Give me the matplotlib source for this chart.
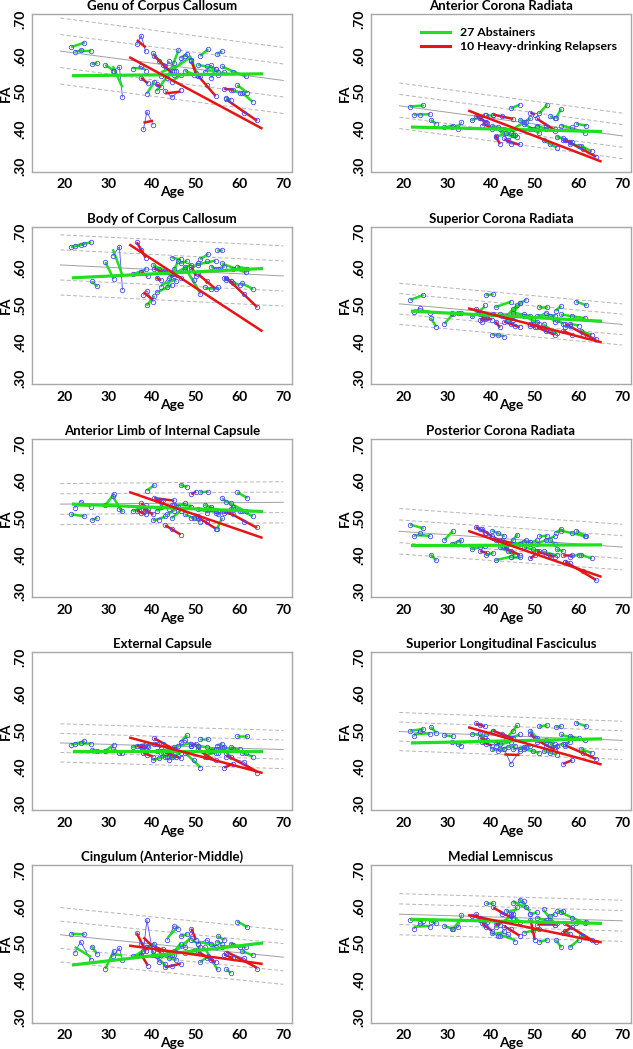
import matplotlib
matplotlib.use("Agg")
import matplotlib.pyplot as plt
import numpy as np
from matplotlib.lines import Line2D

plt.rcParams["font.family"] = ["Lato", "DejaVu Sans"]
plt.rcParams["font.weight"] = "bold"

titles = ["Genu of Corpus Callosum", "Anterior Corona Radiata",
          "Body of Corpus Callosum", "Superior Corona Radiata",
          "Anterior Limb of Internal Capsule", "Posterior Corona Radiata",
          "External Capsule", "Superior Longitudinal Fasciculus",
          "Cingulum (Anterior-Middle)", "Medial Lemniscus"]

# normative band: centre line at age 19 and 70, and spacing between lines
norm_at19 = [.613, .464, .610, .504, .538, .464, .467, .498, .524, .580]
norm_at70 = [.533, .382, .580, .448, .543, .421, .449, .474, .463, .562]
norm_sd = [.045, .031, .041, .028, .028, .031, .026, .026, .037, .028]

# group fits: abstainers at ages 22/65, relapsers at ages 35/65
abst_fit = [(.546, .551), (.406, .394), (.575, .600), (.484, .457), (.538, .518),
            (.425, .427), (.444, .444), (.467, .478), (.442, .501), (.566, .555)]
relapse_fit = [(.595, .403), (.450, .313), (.664, .431), (.491, .400), (.570, .447),
               (.464, .341), (.481, .386), (.509, .409), (.494, .445), (.577, .504)]

# ages at each scan: 27 abstainers, then 10 relapsers
ages = [[21.5, 24.5], [22.3, 23.6, 26.0], [26.2, 27.4], [29.3, 31.2], [31.0, 32.5, 33.2],
        [38.8, 40.5], [40.2, 41.5, 43.0], [41.0, 44.5], [42.0, 43.8, 45.5], [43.5, 45.0, 46.0],
        [44.5, 46.5], [45.0, 47.5, 49.0], [46.5, 48.0], [47.5, 49.5, 51.0], [49.0, 50.5],
        [50.5, 52.5, 54.5], [51.0, 52.8], [52.0, 53.5, 55.0], [53.5, 54.5], [54.8, 56.0],
        [55.0, 56.5], [56.0, 58.5, 61.5], [57.0, 58.0], [58.0, 60.0], [59.5, 61.8],
        [60.5, 63.0], [35.5, 37.5, 38.5],
        [36.5, 37.5, 38.5], [37.5, 39.0], [38.0, 38.8, 40.2], [40.5, 42.5, 45.0],
        [43.0, 44.5, 46.5], [41.0, 42.0], [49.0, 50.0], [50.5, 52.5, 54.5],
        [56.5, 58.5], [57.0, 61.0, 64.0]]
n_abst = 27

genu_fa = [[.624, .636], [.610, .617, .612], [.578, .580], [.575, .560], [.560, .570, .488],
           [.497, .530], [.608, .585, .572], [.505, .560], [.545, .585, .560], [.540, .580, .617],
           [.530, .548], [.560, .600, .590], [.595, .605], [.560, .548, .545], [.590, .545],
           [.575, .572, .565], [.600, .618], [.555, .575, .555], [.540, .565], [.605, .612],
           [.548, .555], [.572, .555, .545], [.485, .480], [.508, .500], [.520, .500],
           [.500, .475], [.565, .572, .560],
           [.632, .655, .612], [.540, .525], [.400, .448, .413], [.600, .575, .548],
           [.505, .487, .508], [.522, .515], [.585, .552], [.545, .520, .490],
           [.510, .508], [.482, .445, .425]]
acr_fa = [[.462, .465], [.440, .440, .441], [.425, .415], [.405, .410], [.405, .402, .420],
          [.440, .440], [.410, .405, .400], [.380, .390], [.400, .370, .385], [.390, .385, .380],
          [.457, .467], [.400, .420, .430], [.425, .420], [.415, .400, .390], [.400, .405],
          [.410, .400, .395], [.443, .467], [.370, .360, .350], [.435, .430], [.430, .455],
          [.380, .375], [.410, .405, .390], [.370, .365], [.360, .355], [.415, .410],
          [.355, .340], [.425, .430, .440],
          [.437, .430, .420], [.430, .418], [.410, .420, .400], [.440, .435, .428],
          [.375, .360, .360], [.382, .360], [.445, .440], [.430, .410, .400],
          [.370, .365], [.370, .345, .325]]
body_fa = [[.658, .668], [.662, .665, .672], [.565, .552], [.617, .572], [.635, .660, .543],
           [.500, .525], [.610, .600, .595], [.535, .555], [.550, .575, .565], [.550, .600, .620],
           [.630, .625], [.585, .605, .610], [.615, .620], [.600, .570, .530], [.600, .615],
           [.610, .620, .620], [.625, .640], [.550, .545, .550], [.605, .600], [.650, .650],
           [.600, .605], [.615, .600, .590], [.570, .565], [.565, .555], [.605, .600],
           [.560, .545], [.585, .590, .600],
           [.672, .650, .630], [.590, .580], [.528, .540, .510], [.600, .590, .580],
           [.590, .585, .575], [.575, .568], [.605, .580], [.585, .565, .545],
           [.575, .560], [.575, .530, .495]]
scr_fa = [[.515, .528], [.482, .492, .480], [.465, .442], [.450, .475], [.480, .478, .478],
          [.528, .530], [.420, .420, .415], [.495, .510], [.475, .460, .445], [.470, .490, .500],
          [.468, .505], [.480, .475, .470], [.505, .515], [.470, .460, .450], [.450, .455],
          [.470, .480, .470], [.495, .495], [.450, .430, .425], [.470, .455], [.485, .498],
          [.460, .450], [.475, .470, .465], [.440, .445], [.450, .445], [.510, .500],
          [.430, .420], [.470, .480, .500],
          [.490, .475, .462], [.460, .465], [.455, .470, .460], [.475, .470, .460],
          [.455, .450, .440], [.455, .440], [.445, .440], [.440, .430, .420],
          [.430, .420], [.450, .420, .408]]
alic_fa = [[.510, .505], [.528, .545, .530], [.495, .500], [.535, .565], [.560, .525, .518],
           [.575, .590], [.495, .495, .505], [.520, .535], [.530, .525, .530], [.510, .520, .530],
           [.500, .520], [.535, .540, .530], [.590, .585], [.510, .500, .490], [.500, .505],
           [.525, .515, .520], [.570, .572], [.535, .530, .520], [.525, .515], [.470, .500],
           [.510, .520], [.555, .530, .520], [.545, .540], [.525, .520], [.570, .555],
           [.520, .505], [.520, .525, .535],
           [.520, .515, .510], [.540, .525], [.525, .520, .510], [.555, .550, .548],
           [.480, .470, .455], [.550, .545], [.565, .572], [.500, .490, .470],
           [.515, .510], [.520, .490, .475]]
pcr_fa = [[.482, .472], [.450, .458, .450], [.400, .385], [.440, .465], [.430, .435, .440],
          [.400, .405], [.465, .460, .450], [.385, .395], [.420, .410, .400], [.420, .440, .455],
          [.395, .395], [.430, .435, .435], [.430, .440], [.420, .415, .410], [.430, .440],
          [.430, .440, .450], [.450, .452], [.410, .400, .400], [.440, .430], [.460, .470],
          [.415, .410], [.465, .460, .450], [.380, .378], [.395, .400], [.465, .450],
          [.400, .390], [.415, .420, .425],
          [.475, .470, .460], [.410, .405], [.470, .460, .450], [.445, .440, .430],
          [.420, .410, .400], [.440, .435], [.390, .400], [.410, .400, .395],
          [.400, .400], [.380, .355, .330]]
ec_fa = [[.462, .472], [.465, .467, .465], [.448, .445], [.445, .462], [.450, .440, .440],
         [.460, .465], [.420, .425, .430], [.445, .450], [.440, .420, .430], [.430, .455, .460],
         [.430, .440], [.450, .475, .460], [.470, .488], [.440, .420, .400], [.465, .460],
         [.460, .455, .450], [.478, .478], [.430, .445, .440], [.445, .440], [.460, .465],
         [.450, .455], [.455, .450, .440], [.440, .430], [.455, .450], [.485, .485],
         [.440, .430], [.455, .460, .465],
         [.460, .455, .450], [.460, .455], [.440, .435, .430], [.480, .465, .450],
         [.440, .435, .425], [.465, .455], [.460, .465], [.450, .430, .420],
         [.400, .410], [.430, .415, .385]]
slf_fa = [[.500, .505], [.485, .500, .490], [.510, .495], [.488, .485], [.470, .465, .460],
          [.490, .500], [.450, .445, .450], [.460, .470], [.450, .455, .460], [.480, .500, .515],
          [.480, .490], [.450, .455, .460], [.450, .455], [.450, .445, .440], [.500, .480],
          [.470, .475, .465], [.512, .515], [.445, .440, .435], [.465, .455], [.510, .512],
          [.460, .465], [.490, .480, .475], [.465, .470], [.485, .480], [.522, .512],
          [.450, .440], [.490, .495, .480],
          [.520, .515, .512], [.480, .475], [.470, .465, .460], [.500, .490, .480],
          [.450, .410, .445], [.470, .465], [.490, .480], [.475, .460, .450],
          [.410, .420], [.460, .440, .423]]
cing_fa = [[.527, .525], [.475, .505, .455], [.492, .472], [.432, .480], [.465, .488, .455],
           [.490, .500], [.480, .450, .445], [.465, .470], [.470, .460, .455], [.510, .548, .540],
           [.470, .500], [.480, .490, .525], [.520, .525], [.475, .480, .490], [.510, .500],
           [.500, .510, .490], [.450, .465], [.490, .455, .430], [.500, .490], [.505, .500],
           [.520, .510], [.490, .495, .490], [.430, .420], [.500, .490], [.560, .545],
           [.480, .468], [.465, .470, .490],
           [.530, .500, .480], [.470, .440], [.480, .565, .470], [.490, .485, .470],
           [.435, .440, .445], [.485, .475], [.540, .510], [.480, .460, .450],
           [.470, .460], [.475, .460, .430]]
ml_fa = [[.565, .562], [.540, .555, .545], [.560, .555], [.548, .540], [.540, .545, .578],
         [.610, .610], [.530, .520, .535], [.545, .575], [.520, .525, .505], [.590, .580, .600],
         [.580, .560], [.610, .615, .580], [.620, .600], [.530, .535, .540], [.580, .585],
         [.570, .565, .550], [.505, .510], [.595, .560, .555], [.575, .580], [.510, .490],
         [.590, .590], [.585, .570, .555], [.535, .525], [.490, .510], [.555, .560],
         [.520, .510], [.575, .570, .565],
         [.580, .565, .550], [.570, .560], [.555, .545, .535], [.600, .580, .570],
         [.545, .540, .520], [.555, .550], [.565, .510], [.550, .560, .550],
         [.530, .545], [.555, .520, .505]]

panel_fa = [genu_fa, acr_fa, body_fa, scr_fa, alic_fa, pcr_fa, ec_fa, slf_fa, cing_fa, ml_fa]

blue = "#4a4aff"
green = "#1ee01e"
red = "#e61414"

W, H = 633, 1049
fig = plt.figure(figsize=(W / 100, H / 100), dpi=100)

for i, title in enumerate(titles):
    row, col = divmod(i, 2)
    left = [32, 371][col]
    top = 14 + row * 212.75
    ax = fig.add_axes([left / W, 1 - (top + 157.5) / H, 260 / W, 157.5 / H])

    # normative band
    xs = np.array([19, 70])
    for k in range(-2, 3):
        ys = np.array([norm_at19[i], norm_at70[i]]) + k * norm_sd[i]
        if k == 0:
            ax.plot(xs, ys, color="#a0a0a0", lw=0.7, zorder=1)
        else:
            ax.plot(xs, ys, color="#b4b4b4", lw=0.7, ls=(0, (4, 2.5)), zorder=1)

    # individual subjects
    for s, (a, f) in enumerate(zip(ages, panel_fa[i])):
        ax.plot(a, f, color=blue, lw=0.6, zorder=2)
        b1, b0 = np.polyfit(a, f, 1)
        c = green if s < n_abst else red
        ax.plot([a[0], a[-1]], [b0 + b1 * a[0], b0 + b1 * a[-1]],
                color=c, lw=1.8, zorder=3, solid_capstyle="butt")
        ax.plot(a, f, ls="", marker="o", ms=3.2, mfc="none", mec=blue,
                mew=0.6, zorder=4)

    # group fits
    ax.plot([22, 65], abst_fit[i], color=green, lw=2.3, zorder=5)
    ax.plot([35, 65], relapse_fit[i], color=red, lw=1.8, zorder=6)

    ax.set_xlim(12.5, 72)
    ax.set_ylim(0.285, 0.714)
    ax.set_xticks([20, 30, 40, 50, 60, 70])
    ax.set_yticks([.30, .40, .50, .60, .70])
    ax.set_yticklabels([".30", ".40", ".50", ".60", ".70"], rotation=90, va="center")
    ax.tick_params(axis="x", length=0, labelsize=10, pad=5)
    ax.tick_params(axis="y", length=0, labelsize=10, pad=4)
    for lab in ax.get_xticklabels() + ax.get_yticklabels():
        lab.set_fontweight("bold")
    for sp in ax.spines.values():
        sp.set_color("#a8a8a8")
        sp.set_linewidth(1.0)
    ax.set_title(title, fontsize=9.5, fontweight="bold", pad=3)
    ax.set_xlabel("Age", fontsize=10, fontweight="bold")
    ax.xaxis.set_label_coords(0.54, -0.095)
    ax.set_ylabel("FA", fontsize=10, fontweight="bold", labelpad=2)

    if i == 1:
        handles = [Line2D([], [], color=green, lw=2.2),
                   Line2D([], [], color=red, lw=2.2)]
        ax.legend(handles, ["27 Abstainers", "10 Heavy-drinking Relapsers"],
                  loc="upper left", bbox_to_anchor=(0.15, 0.985), frameon=False,
                  handlelength=2.4, handletextpad=0.8, labelspacing=0.25,
                  prop={"size": 8.8, "weight": "bold"})

fig.savefig("out.png", dpi=100)
